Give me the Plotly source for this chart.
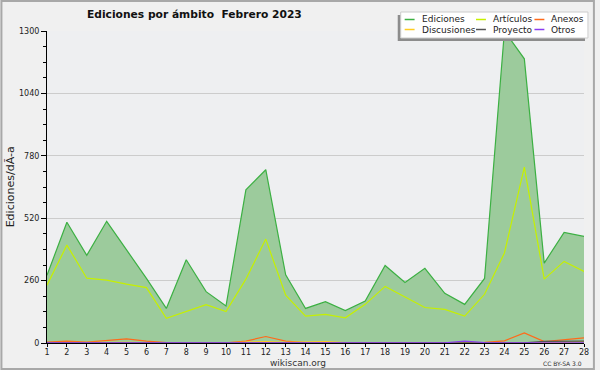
import plotly.graph_objects as go

days = list(range(1, 29))
ediciones = [282, 503, 365, 507, 388, 269, 144, 347, 214, 154, 638, 722, 284, 144, 172, 135, 175, 323, 252, 311,
             207, 161, 269, 1300, 1184, 333, 461, 444]
articulos = [241, 408, 270, 262, 245, 231, 103, 131, 160, 131, 266, 433, 199, 112, 119, 105, 161, 236, 192, 148,
             140, 112, 203, 375, 733, 266, 340, 298]
anexos = [4, 8, 4, 10, 17, 8, 2, 2, 2, 1, 8, 27, 8, 2, 2, 2, 2, 2, 2, 2, 1, 2, 3, 9, 42, 6, 14, 21]
discusiones = [2, 3, 2, 2, 3, 2, 1, 1, 1, 1, 4, 6, 3, 3, 6, 2, 1, 1, 1, 1, 1, 1, 1, 2, 2, 2, 3, 6]
proyecto = [1, 1, 1, 1, 1, 1, 2, 4, 3, 1, 1, 1, 1, 1, 1, 1, 1, 1, 1, 2, 2, 1, 1, 1, 1, 7, 8, 8]
otros = [1, 1, 1, 2, 2, 1, 1, 1, 1, 1, 1, 1, 2, 3, 1, 1, 1, 1, 1, 1, 1, 8, 2, 1, 1, 1, 1, 1]

series_names = ["Ediciones", "Artículos", "Anexos", "Discusiones", "Proyecto", "Otros"]
series_colors = ["#3cb043", "#c6f000", "#ff6a1a", "#ffcc22", "#555555", "#8a3cf0"]
y_ticks = [0, 260, 520, 780, 1040, 1300]

W, H = 600, 370
L, R, T, B = 47, 11, 31, 27
PW, PH = W - L - R, H - T - B


def px(x):
    return (x - L) / PW


def py(y):
    return (H - B - y) / PH


fig = go.Figure()
fig.add_trace(go.Scatter(x=days, y=ediciones, mode="lines", fill="tozeroy",
                         fillcolor="#9ccb9c", line=dict(color=series_colors[0], width=1.2),
                         name=series_names[0], showlegend=False, hoverinfo="skip"))
others = [articulos, anexos, discusiones, proyecto, otros]
for vals, name, col in zip(others, series_names[1:], series_colors[1:]):
    fig.add_trace(go.Scatter(x=days, y=vals, mode="lines", line=dict(color=col, width=1.2),
                             name=name, showlegend=False, hoverinfo="skip"))

shapes = []
annotations = []
# outer border
shapes.append(dict(type="rect", xref="paper", yref="paper", x0=px(1), x1=px(599), y0=py(369), y1=py(1),
                   line=dict(color="#a8a8a8", width=2), fillcolor="rgba(0,0,0,0)", layer="below"))
# legend shadow + box
shapes.append(dict(type="rect", xref="paper", yref="paper", x0=px(401), x1=px(590), y0=py(41), y1=py(15),
                   line=dict(width=0), fillcolor="#8c8c8c", layer="above"))
shapes.append(dict(type="rect", xref="paper", yref="paper", x0=px(404), x1=px(593), y0=py(38), y1=py(12),
                   line=dict(color="#cccccc", width=1), fillcolor="#ffffff", layer="above"))
col_x = [408, 480, 539]
row_y = [19.5, 29.5]
for i, (name, col) in enumerate(zip(series_names, series_colors)):
    r, c = i // 3, i % 3
    x0 = col_x[c]
    yy = row_y[r]
    shapes.append(dict(type="line", xref="paper", yref="paper", x0=px(x0), x1=px(x0 + 10),
                       y0=py(yy), y1=py(yy), line=dict(color=col, width=1.5), layer="above"))
    annotations.append(dict(text=name, xref="paper", yref="paper", x=px(x0 + 15), y=py(yy),
                            xanchor="left", yanchor="middle", showarrow=False,
                            font=dict(family="DejaVu Sans", size=9, color="#222222")))

annotations.append(dict(text="<b>Ediciones por ámbito  Febrero 2023</b>", xref="paper", yref="paper",
                        x=px(85), y=py(15), xanchor="left", yanchor="middle", showarrow=False,
                        font=dict(family="DejaVu Sans", size=10.7, color="#111111")))
annotations.append(dict(text="Ediciones/dÃ-a", xref="paper", yref="paper", x=px(10), y=py(187),
                        xanchor="center", yanchor="middle", textangle=-90, showarrow=False,
                        font=dict(family="DejaVu Sans", size=11, color="#222222")))
annotations.append(dict(text="wikiscan.org", xref="paper", yref="paper", x=px(300), y=py(363),
                        xanchor="center", yanchor="middle", showarrow=False,
                        font=dict(family="DejaVu Sans", size=9, color="#333333")))
annotations.append(dict(text="CC BY-SA 3.0", xref="paper", yref="paper", x=px(589), y=py(363),
                        xanchor="right", yanchor="middle", showarrow=False,
                        font=dict(family="DejaVu Sans", size=6, color="#333333")))

fig.update_layout(
    width=W, height=H,
    margin=dict(l=L, r=R, t=T, b=B, pad=0),
    paper_bgcolor="#f0f0f0",
    plot_bgcolor="#eeeff1",
    showlegend=False,
    hovermode=False,
    shapes=shapes,
    annotations=annotations,
    xaxis=dict(range=[1, 28], tickmode="array", tickvals=days, ticktext=[str(d) for d in days],
               showgrid=False, zeroline=False, showline=True, linecolor="#000000", linewidth=1,
               ticks="outside", ticklen=3, tickcolor="#000000", ticklabelstandoff=-2,
               tickfont=dict(family="DejaVu Sans", size=8, color="#222222")),
    yaxis=dict(range=[0, 1300], tickmode="array", tickvals=y_ticks, ticktext=[str(v) for v in y_ticks],
               showgrid=True, gridcolor="#cccccc", gridwidth=1, zeroline=False,
               showline=True, linecolor="#000000", linewidth=1,
               ticks="outside", ticklen=5, tickcolor="#000000",
               minor=dict(dtick=65, tick0=0, ticks="outside", ticklen=3, tickcolor="#000000", showgrid=False),
               tickfont=dict(family="DejaVu Sans", size=8, color="#222222")),
)

fig.write_html("out.html", config={"displayModeBar": False, "staticPlot": True},
               post_script="document.body.style.margin='0';document.body.style.overflow='hidden';")
